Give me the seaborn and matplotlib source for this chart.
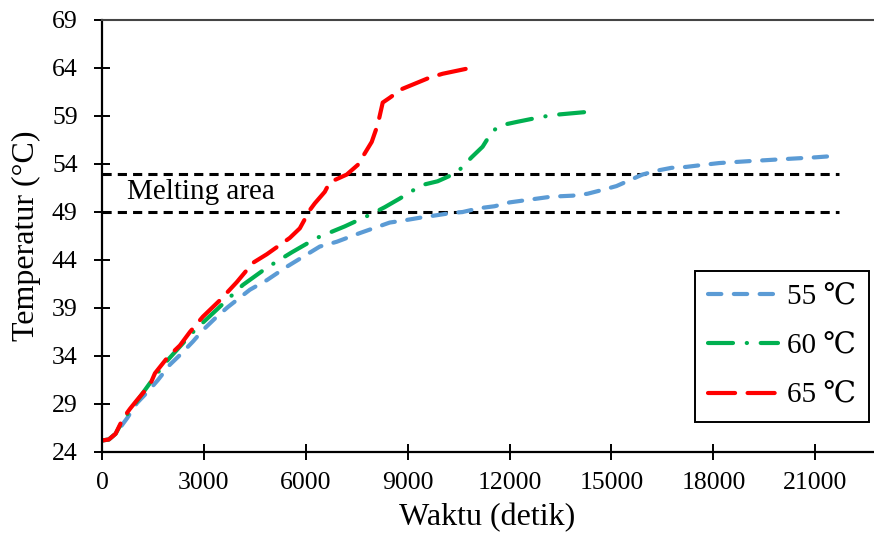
import numpy as np
import pandas as pd
import matplotlib
matplotlib.use("Agg")
import matplotlib.pyplot as plt
import seaborn as sns
from matplotlib.lines import Line2D

# ---- data ----
x_55 = [0, 200, 400, 735, 1029, 1353, 1647, 2000, 2294, 2676, 2971, 3382, 3706, 4353, 4853,
        5441, 6412, 6912, 7588, 8471, 8853, 9353, 9735, 10294, 10618, 11118, 11559, 12000,
        13235, 13853, 14294, 14735, 15147, 15529, 15912, 16324, 16765, 17206, 17676, 18176,
        18618, 19059, 19559, 20029, 20529, 21029, 21600]
y_55 = [25.2, 25.3, 25.9, 27.5, 29.1, 30.3, 31.5, 33.1, 34.1, 35.5, 36.7, 38.1, 39.1, 40.9, 41.9,
        43.3, 45.4, 45.9, 46.8, 47.9, 48.1, 48.4, 48.6, 48.9, 49.0, 49.4, 49.6, 50.0,
        50.6, 50.7, 50.9, 51.3, 51.7, 52.3, 52.9, 53.3, 53.6, 53.7, 53.9, 54.1,
        54.2, 54.3, 54.4, 54.5, 54.6, 54.7, 54.85]

x_60 = [0, 200, 400, 618, 1029, 1559, 1941, 2735, 3400, 4147, 4853, 5588, 6324, 7147, 7941,
        8324, 8765, 9412, 9882, 10324, 10529, 10882, 11206, 11471, 11706, 12235, 12794, 13265, 14206]
y_60 = [25.2, 25.3, 25.9, 27.3, 29.3, 31.9, 33.6, 36.7, 38.9, 41.4, 43.2, 44.8, 46.3, 47.5, 48.8,
        49.5, 50.4, 51.8, 52.2, 52.9, 53.4, 54.7, 55.8, 57.3, 58.0, 58.4, 58.8, 59.1, 59.4]

x_65 = [0, 200, 400, 618, 824, 1029, 1412, 1559, 1941, 2294, 2588, 2971, 3470, 3970, 4441, 4853,
        5529, 5824, 6118, 6265, 6559, 6706, 7206, 7529, 7941, 8118, 8265, 8471, 8824, 9647,
        10029, 10971]
y_65 = [25.2, 25.3, 25.9, 27.5, 28.5, 29.4, 31.0, 32.2, 33.9, 35.1, 36.5, 38.1, 39.8, 41.7, 43.7, 44.6,
        46.3, 47.3, 49.2, 49.9, 51.1, 52.1, 52.9, 53.9, 56.3, 58.1, 60.4, 60.9, 61.8, 63.0,
        63.4, 64.1]

series_labels = ["55 \u2103", "60 \u2103", "65 \u2103"]
series_colors = ["#5B9BD5", "#00B050", "#FF0000"]

melt_levels = [49, 53]
melt_x = [0, 21700]
melt_label = "Melting area"

x_ticks = [0, 3000, 6000, 9000, 12000, 15000, 18000, 21000]
y_ticks = [24, 29, 34, 39, 44, 49, 54, 59, 64, 69]
x_label = "Waktu (detik)"
y_label = "Temperatur (\u00b0C)"

# ---- style ----
sns.set_theme(style="white")
plt.rcParams["font.family"] = ["Liberation Serif", "DejaVu Serif"]
plt.rcParams["text.color"] = "black"
plt.rcParams["axes.labelcolor"] = "black"
plt.rcParams["xtick.color"] = "black"
plt.rcParams["ytick.color"] = "black"

fig = plt.figure(figsize=(8.74, 5.43), dpi=100)
ax = fig.add_axes([102 / 874, 1 - 452 / 543, 771 / 874, 432 / 543])

lw = 3.0
styles = [
    (0, (3.2, 3.0)),
    (0, (6.0, 3.3, 0.05, 3.3)),
    (0, (6.5, 3.0)),
]

for xs, ys, c, ls, lab in zip([x_55, x_60, x_65], [y_55, y_60, y_65], series_colors, styles, series_labels):
    df = pd.DataFrame({"x": xs, "y": ys})
    sns.lineplot(data=df, x="x", y="y", ax=ax, color=c, linewidth=lw, linestyle=ls,
                 sort=False, dash_capstyle="round", solid_capstyle="round", label=lab)

for lvl in melt_levels:
    ax.hlines(lvl, melt_x[0], melt_x[1], colors="black", linewidth=2.2,
              linestyles=(0, (3.0, 2.0)), zorder=1)

ax.text(730, 51.1, melt_label, fontsize=21, va="center", ha="left", color="black")

ax.set_xlim(0, 22700)
ax.set_ylim(24, 69)
ax.set_xticks(x_ticks)
ax.set_yticks(y_ticks)
ax.set_xlabel(x_label, fontsize=23, labelpad=6)
ax.set_ylabel(y_label, fontsize=23, labelpad=8)

ax.spines["right"].set_visible(False)
for s in ["left", "bottom"]:
    ax.spines[s].set_color("black")
    ax.spines[s].set_linewidth(1.6)
ax.spines["top"].set_color("#444444")
ax.spines["top"].set_linewidth(1.5)

ax.tick_params(axis="both", direction="inout", length=11, width=1.4, color="black",
               labelsize=18.5, bottom=True, left=True)
ax.tick_params(axis="y", pad=12)
ax.tick_params(axis="x", pad=9)

handles = [Line2D([0], [0], color=c, linewidth=lw, linestyle=ls,
                  dash_capstyle="round", solid_capstyle="round")
           for c, ls in zip(series_colors, styles)]
leg = ax.legend(handles, series_labels, loc="center",
                bbox_to_anchor=(0.8947, 0.3619), bbox_transform=fig.transFigure,
                frameon=True, fancybox=False, edgecolor="black",
                framealpha=1, handlelength=2.4, handletextpad=0.3, labelspacing=0.78,
                borderpad=0.45, prop={"family": ["Liberation Serif", "DejaVu Serif"], "size": 21})
leg.get_frame().set_linewidth(1.4)

fig.savefig("out.png", dpi=100)
